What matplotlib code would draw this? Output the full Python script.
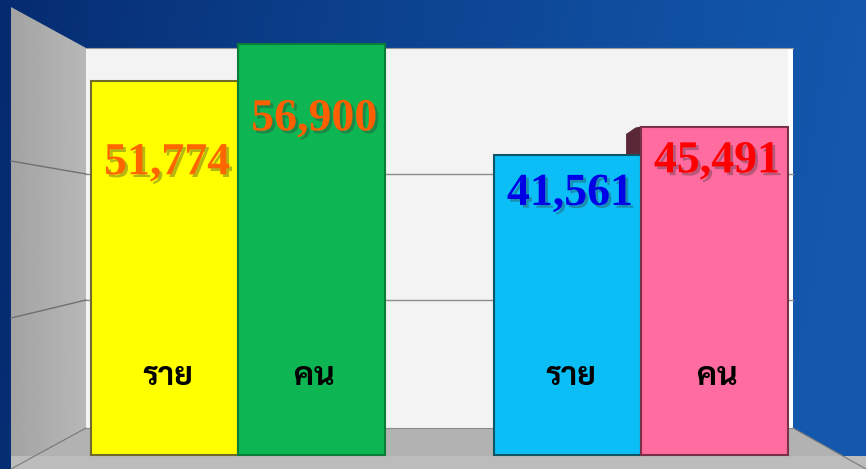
import matplotlib
matplotlib.use("Agg")
import matplotlib.pyplot as plt
import matplotlib.patheffects as pe
from matplotlib.patches import Polygon, Rectangle
from matplotlib import transforms
import numpy as np

# data ---------------------------------------------------------------
values = [51774, 56900, 41561, 45491]
value_labels = ["51,774", "56,900", "41,561", "45,491"]
unit_labels = ["ราย", "คน", "ราย", "คน"]
# ---------------------------------------------------------------------

W, H = 866, 469
positions = [0, 1, 2.74, 3.74]
bar_colors = ["#ffff00", "#0db652", "#0bbff6", "#ff6ca0"]
edge_colors = ["#6f6b2a", "#0a7d38", "#0f5565", "#7a3046"]
text_colors = ["#ff6600", "#ff5f00", "#0000e6", "#ff0000"]

px_per_unit = 0.00722   # bar height scale in pixels
base_px = 455           # pixel row of value 0

fig = plt.figure(figsize=(W / 100, H / 100), dpi=100)

# background + 3d box, in pixel coords
bg = fig.add_axes([0, 0, 1, 1])
bg.set_xlim(0, W)
bg.set_ylim(H, 0)
bg.axis("off")

xx = np.linspace(0, 1, 200)
yy = np.linspace(0, 1, 100)
gx, gy = np.meshgrid(xx, yy)
c_left = np.array([5, 42, 110]) / 255
c_right = np.array([19, 88, 173]) / 255
t = np.clip(gx ** 0.8 + 0.08 * gy, 0, 1)
grad = c_left[None, None, :] * (1 - t[..., None]) + c_right[None, None, :] * t[..., None]
bg.imshow(grad, extent=[0, W, H, 0], aspect="auto", zorder=0)

# left wall with gradient
wall = Polygon([(11, 7), (86, 48), (86, 428), (11, 469)], closed=True,
               facecolor="none", edgecolor="none")
bg.add_patch(wall)
wg = np.linspace(0.64, 0.72, 50)[None, :].repeat(2, axis=0)
im = bg.imshow(wg, extent=[11, 86, 469, 7], aspect="auto", cmap="gray",
               vmin=0, vmax=1, zorder=1)
im.set_clip_path(wall)

# floor
bg.add_patch(Polygon([(11, 469), (86, 428), (793, 428), (866, 469)], closed=True,
                     facecolor="#b2b2b2", edgecolor="none", zorder=1))
bg.add_patch(Rectangle((11, 456), W - 11, 13, facecolor="#bcbcbc",
                       edgecolor="none", zorder=1))
bg.plot([11, 86], [469, 428], color="#7a7a7a", lw=0.8, zorder=2)
bg.plot([793, 866], [428, 469], color="#7a7a7a", lw=0.8, zorder=2)

# back wall
bg.add_patch(Rectangle((86, 48), 707, 380, facecolor="#f3f3f3",
                       edgecolor="none", zorder=1))
bg.add_patch(Rectangle((788, 48), 5, 380, facecolor="#ffffff",
                       edgecolor="none", zorder=1))
bg.plot([86, 793], [48.5, 48.5], color="#9a9a9a", lw=0.8, zorder=2)
bg.plot([86, 793], [428, 428], color="#8a8a8a", lw=0.8, zorder=2)

# grid lines on back wall and left wall
for y_back, y_left in [(174, 161), (300, 318)]:
    bg.plot([86, 793], [y_back, y_back], color="#8c8c8c", lw=1, zorder=2)
    bg.plot([11, 86], [y_left, y_back], color="#707070", lw=1, zorder=2)

# bars --------------------------------------------------------------
ax = fig.add_axes([0, 0, 1, 1])
ax.patch.set_alpha(0)
ax.axis("off")
ax.set_xlim(-164.5 / 147, (W - 164.5) / 147)
ax.set_ylim(-(H - base_px) / px_per_unit, base_px / px_per_unit)

# small 3d depth on the pink bar's top-left corner
x0 = positions[3] - 0.5
ax.add_patch(Polygon([(x0 - 0.1, values[2]), (x0 - 0.1, values[3] - 1030),
                      (x0 - 0.035, values[3] - 130), (x0, values[3]),
                      (x0, values[2])], closed=True,
                     facecolor="#5b2838", edgecolor="none", zorder=1))

ax.bar(positions, values, width=1.0, color=bar_colors, edgecolor=edge_colors,
       linewidth=1.5, zorder=2)

# value labels
offsets = [-67, -62, -36, -33]   # points below bar top to baseline
shadow = [pe.SimplePatchShadow(offset=(2, -2), shadow_rgbFace="#333333", alpha=0.35),
          pe.Normal()]
for p, v, lab, col, off in zip(positions, values, value_labels, text_colors, offsets):
    ax.annotate(lab, xy=(p, v), xytext=(2, off), textcoords="offset points",
                ha="center", va="baseline", color=col, fontsize=33,
                fontweight="bold", family="Liberation Serif",
                path_effects=shadow, zorder=3)

# unit labels, fixed row in pixels
pix = transforms.Affine2D().scale(1 / W, -1 / H).translate(0, 1) + fig.transFigure
row = transforms.blended_transform_factory(ax.transData, pix)
for p, lab in zip(positions, unit_labels):
    ax.text(p + 0.02, 385, lab, transform=row, ha="center", va="baseline",
            fontsize=23, fontweight="bold",
            family=["Sarabun", "Noto Sans Thai", "DejaVu Sans"], color="black",
            zorder=3)

fig.savefig("out.png", dpi=100)
